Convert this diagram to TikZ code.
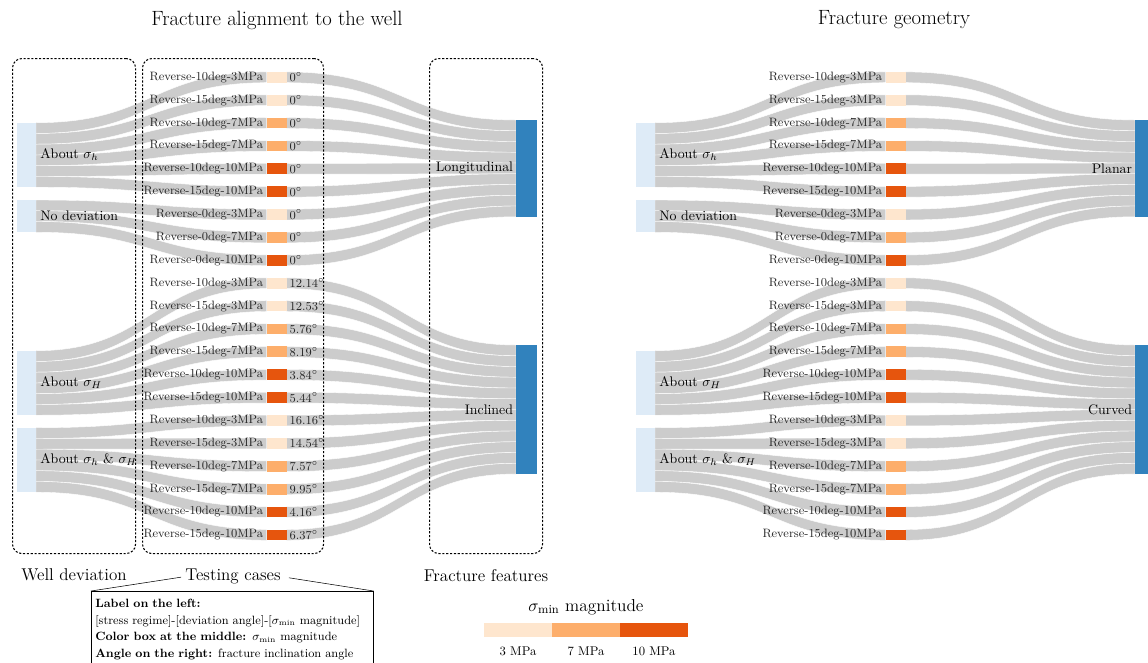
\RequirePackage{fix-cm}
\documentclass[tikz,border=0pt]{standalone}
\usepackage{amsmath}
\usepackage{fontspec}
\usepackage{tikz}
\usepackage{xcolor}
\usetikzlibrary{calc,positioning}

\definecolor{flowgray}{HTML}{CCCCCC}
\definecolor{srcblue}{HTML}{DEEBF7}
\definecolor{tgtblue}{HTML}{3182BD}
\definecolor{mpaA}{HTML}{FEE6CE}
\definecolor{mpaB}{HTML}{FDAE6B}
\definecolor{mpaC}{HTML}{E6550D}

\pgfdeclarelayer{bg}
\pgfsetlayers{bg,main}

\def\bw{8.0625pt}
\newcommand{\band}[2]{%
  \begin{pgfonlayer}{bg}
    \path[flow] let \p1=#1, \p2=#2, \p3=($(\p1)!0.5!(\p2)$) in
      (\p1) .. controls (\x3,\y1) and (\x3,\y2) .. (\p2)
      -- (\x2,\y2-\bw) .. controls (\x3,\y2-\bw) and (\x3,\y1-\bw) .. (\x1,\y1-\bw) -- cycle;
  \end{pgfonlayer}}

\begin{document}
\begin{tikzpicture}[
    x=0.75pt, y=-0.75pt,
    flow/.style={fill=flowgray, draw=white, line width=0.3pt},
    srcbox/.style={fill=srcblue, minimum width=14.25pt, inner sep=0pt, outer sep=0pt, anchor=north west},
    tgtbox/.style={fill=tgtblue, minimum width=15.75pt, inner sep=0pt, outer sep=0pt, anchor=north west},
    cbox/.style={minimum width=15pt, minimum height=\bw, inner sep=0pt, outer sep=0pt},
    caselab/.style={font=\fontsize{9.1}{11}\selectfont, text=black!85, inner sep=0pt},
    nodelab/.style={font=\fontsize{10.4}{12}\selectfont, inner sep=0pt},
    grpbox/.style={draw, line width=0.8pt, dash pattern=on 1.6pt off 1.3pt, rounded corners=7pt, inner sep=0pt, anchor=north west},
    grplab/.style={font=\fontsize{12.8}{15}\selectfont, inner sep=0pt},
    headlab/.style={font=\fontsize{15.5}{18}\selectfont, inner sep=0pt},
    notebox/.style={font=\fontsize{9}{12.4}\selectfont, align=left, text width=205.5pt, inner xsep=3pt, inner ysep=6pt, anchor=north west},
    legbar/.style={minimum width=51pt, minimum height=10.5pt, inner sep=0pt, outer sep=0pt},
    leglab/.style={font=\fontsize{9.5}{11}\selectfont, inner sep=0pt}
]
    \useasboundingbox (0,0) rectangle (1148,662);

    \node[headlab] (head1) at (277,20) {Fracture alignment to the well};
    \node[headlab] (head2) at (894,20) {Fracture geometry};

    % both sankey panels
    \foreach \pn/\dx/\ta/\tb in {L/0/Longitudinal/Inclined, R/619/Planar/Curved} {
        \node[srcbox, minimum height=48.375pt] (\pn-hs) at (17+\dx,122.7) {};
        \node[srcbox, minimum height=24.1875pt] (\pn-nd) at (17+\dx,200) {};
        \node[srcbox, minimum height=48.375pt] (\pn-HS) at (17+\dx,350.7) {};
        \node[srcbox, minimum height=48.375pt] (\pn-hH) at (17+\dx,427.7) {};
        \node[nodelab, right=3pt of \pn-hs] {About $\sigma_h$};
        \node[nodelab, right=3pt of \pn-nd] {No deviation};
        \node[nodelab, right=3pt of \pn-HS] {About $\sigma_H$};
        \node[nodelab, right=3pt of \pn-hH] {About $\sigma_h$ \& $\sigma_H$};

        \node[tgtbox, minimum height=72.5625pt] (\pn-lon) at (516+\dx,120) {};
        \node[tgtbox, minimum height=96.75pt] (\pn-inc) at (516+\dx,345) {};
        \node[nodelab, left=2pt of \pn-lon] {\ta};
        \node[nodelab, left=2pt of \pn-inc] {\tb};

        \foreach \i/\lab/\col/\src/\k/\tgt/\j in {
            1/Reverse-10deg-3MPa/mpaA/hs/0/lon/0, 2/Reverse-15deg-3MPa/mpaA/hs/1/lon/1,
            3/Reverse-10deg-7MPa/mpaB/hs/2/lon/2, 4/Reverse-15deg-7MPa/mpaB/hs/3/lon/3,
            5/Reverse-10deg-10MPa/mpaC/hs/4/lon/4, 6/Reverse-15deg-10MPa/mpaC/hs/5/lon/5,
            7/Reverse-0deg-3MPa/mpaA/nd/0/lon/6, 8/Reverse-0deg-7MPa/mpaB/nd/1/lon/7,
            9/Reverse-0deg-10MPa/mpaC/nd/2/lon/8,
            10/Reverse-10deg-3MPa/mpaA/HS/0/inc/0, 11/Reverse-15deg-3MPa/mpaA/HS/1/inc/1,
            12/Reverse-10deg-7MPa/mpaB/HS/2/inc/2, 13/Reverse-15deg-7MPa/mpaB/HS/3/inc/3,
            14/Reverse-10deg-10MPa/mpaC/HS/4/inc/4, 15/Reverse-15deg-10MPa/mpaC/HS/5/inc/5,
            16/Reverse-10deg-3MPa/mpaA/hH/0/inc/6, 17/Reverse-15deg-3MPa/mpaA/hH/1/inc/7,
            18/Reverse-10deg-7MPa/mpaB/hH/2/inc/8, 19/Reverse-15deg-7MPa/mpaB/hH/3/inc/9,
            20/Reverse-10deg-10MPa/mpaC/hH/4/inc/10, 21/Reverse-15deg-10MPa/mpaC/hH/5/inc/11} {
            \node[cbox, fill=\col] (\pn-c\i) at (276.7+\dx,{77.3+22.88*(\i-1)}) {};
            \node[caselab, left=2.5pt of \pn-c\i] {\lab};
            \band{($(\pn-\src.north east)+(0,\k*10.75)$)}{(\pn-c\i.north west)}
            \band{(\pn-c\i.north east)}{($(\pn-\tgt.north west)+(0,\j*10.75)$)}
        }
    }

    % inclination angles, left panel only
    \foreach \i/\ang in {1/0, 2/0, 3/0, 4/0, 5/0, 6/0, 7/0, 8/0, 9/0, 10/12.14, 11/12.53,
        12/5.76, 13/8.19, 14/3.84, 15/5.44, 16/16.16, 17/14.54, 18/7.57, 19/9.95, 20/4.16, 21/6.37}
        \node[caselab, right=2pt of L-c\i] (L-a\i) {\ang$^\circ$};

    \node[grpbox, minimum width=92.25pt, minimum height=371.25pt] (gwell) at (12,58) {};
    \node[grpbox, minimum width=135.75pt, minimum height=371.25pt] (gcase) at (142,58) {};
    \node[grpbox, minimum width=84.75pt, minimum height=371.25pt] (gfeat) at (429,58) {};
    \node[grplab, below=11pt of gwell] (lwell) {Well deviation};
    \node[grplab, below=11pt of gcase] (ltest) {Testing cases};
    \node[grplab, below=11pt of gfeat] (lfeat) {Fracture features};

    \node[notebox] (note) at (91,591) {\textbf{Label on the left:}\\\relax
        [stress regime]-[deviation angle]-[$\sigma_{\mathrm{min}}$ magnitude]\\
        \textbf{Color box at the middle:} $\sigma_{\mathrm{min}}$ magnitude\\
        \textbf{Angle on the right:} fracture inclination angle};
    \draw (note.north west) -- (note.north east) -- ++(0,100);
    \draw (note.north west) -- ++(0,100);
    \draw[shorten >=3pt] (note.north west) -- (ltest.west);
    \draw[shorten <=6pt] (ltest.east) -- (note.north east);

    \node[legbar, fill=mpaA] (bar3) at (518,630) {};
    \node[legbar, fill=mpaB, right=0pt of bar3] (bar7) {};
    \node[legbar, fill=mpaC, right=0pt of bar7] (bar10) {};
    \node[grplab, font=\fontsize{13}{15}\selectfont, above=6pt of bar7] (legtitle) {$\sigma_{\mathrm{min}}$ magnitude};
    \node[leglab, below=7pt of bar3] (l3) {3 MPa};
    \node[leglab, below=7pt of bar7] (l7) {7 MPa};
    \node[leglab, below=7pt of bar10] (l10) {10 MPa};
\end{tikzpicture}
\end{document}
